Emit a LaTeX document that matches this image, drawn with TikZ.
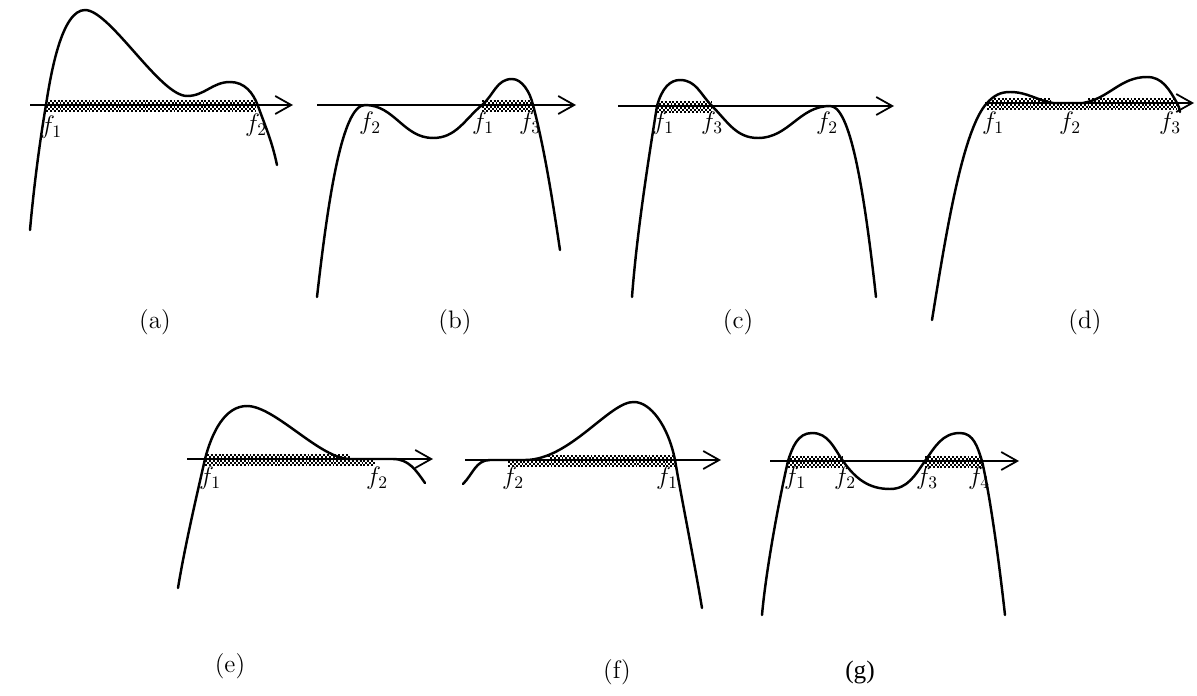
\documentclass[tikz,border=0pt]{standalone}
\usepackage{fontspec}
\newfontfamily\gcapfont{Liberation Serif}
\usetikzlibrary{arrows.meta}
\tikzset{
  curve/.style={line width=1.4pt, line cap=round, line join=round},
  axis/.style={line width=1.1pt, -{Straight Barb[length=0.32cm,width=0.36cm,line width=1pt]}},
  hatch/.style={line width=1.2pt, dash pattern=on 1.1pt off 1.1pt},
  flabel/.style={font=\Large, inner sep=0pt},
  caption/.style={font=\Large, inner sep=0pt}
}
\newcommand{\hatchtop}[3]{\draw[hatch] (#1,#3+4) -- (#2,#3+4);\draw[hatch,dash phase=1.1pt] (#1,#3+2.2) -- (#2,#3+2.2);}
\newcommand{\hatchbot}[3]{\draw[hatch] (#1,#3-2.3) -- (#2,#3-2.3);\draw[hatch,dash phase=1.1pt] (#1,#3-4.2) -- (#2,#3-4.2);\draw[hatch] (#1,#3-6.1) -- (#2,#3-6.1);}
\begin{document}
\begin{tikzpicture}[x=0.02cm,y=0.02cm]
\useasboundingbox (0,0) rectangle (1197,-696);
% ---------- (a)
\hatchtop{46}{256}{-105}\hatchbot{46}{256}{-105}
\coordinate (aL) at (30,-105); \coordinate (aR) at (293,-105);
\draw[axis] (aL) -- (aR);
\draw[curve] (30,-230) .. controls (34,-185) and (40,-140) .. (46,-105)
  .. controls (51,-72) and (62,-10) .. (85,-10)
  .. controls (110,-10) and (160,-96) .. (187,-96)
  to[out=0,in=180] (230,-82) to[out=0,in=110] (258,-106)
  to[out=-70,in=102] (277,-165);
\node[flabel] (a1) at (51,-127) {$f_1$};
\node[flabel] (a2) at (256,-125) {$f_2$};
\node[caption] (ca) at (155,-322) {(a)};
% ---------- (b)
\hatchtop{482}{533}{-105}\hatchbot{482}{533}{-105}
\coordinate (bL) at (317,-105); \coordinate (bR) at (576,-105);
\draw[axis] (bL) -- (bR);
\draw[curve] (317,-297) .. controls (328,-200) and (342,-105) .. (365,-105)
  to[out=0,in=180] (433,-138) to[out=0,in=220] (482,-105) to[out=40,in=180] (512,-79)
  .. controls (522,-79) and (530,-92) .. (533,-105)
  .. controls (545,-150) and (554,-210) .. (560,-250);
\node[flabel] (b2) at (370,-123) {$f_2$};
\node[flabel] (b1) at (483,-123) {$f_1$};
\node[flabel] (b3) at (530,-123) {$f_3$};
\node[caption] (cb) at (455,-322) {(b)};
% ---------- (c)
\hatchtop{657}{712}{-106}\hatchbot{657}{712}{-106}
\coordinate (cL) at (618,-106); \coordinate (cR) at (894,-106);
\draw[axis] (cL) -- (cR);
\draw[curve] (632,-297) .. controls (637,-230) and (650,-150) .. (657,-106)
  .. controls (662,-88) and (670,-80) .. (680,-80)
  to[out=0,in=135] (712,-106) to[out=-45,in=180] (758,-138) to[out=0,in=180] (830,-106)
  .. controls (848,-106) and (862,-170) .. (876,-297);
\node[flabel] (c1) at (663,-123) {$f_1$};
\node[flabel] (c3) at (712,-123) {$f_3$};
\node[flabel] (c2) at (827,-123) {$f_2$};
\node[caption] (cc) at (738,-322) {(c)};
% ---------- (d)
\hatchtop{990}{1050}{-103}\hatchtop{1088}{1174}{-103}\hatchbot{987}{1177}{-103}
\coordinate (dL) at (985,-103); \coordinate (dR) at (1194,-103);
\draw[axis] (dL) -- (dR);
\draw[curve] (932,-320) .. controls (945,-240) and (962,-130) .. (987,-103)
  to[out=47,in=180] (1010,-92)
  to[out=0,in=170] (1053,-103) -- (1083,-103) to[out=10,in=180] (1147,-77)
  to[out=0,in=120] (1177,-103) to[out=-60,in=100] (1180,-112);
\node[flabel] (d1) at (993,-123) {$f_1$};
\node[flabel] (d2) at (1070,-123) {$f_2$};
\node[flabel] (d3) at (1170,-123) {$f_3$};
\node[caption] (cd) at (1085,-322) {(d)};
% ---------- (e)
\hatchtop{207}{350}{-459}\hatchbot{205}{375}{-459}
\coordinate (eL) at (187,-459); \coordinate (eR) at (433,-459);
\draw[axis] (eL) -- (eR);
\draw[curve] (178,-588) .. controls (185,-545) and (198,-490) .. (205,-459)
  .. controls (212,-432) and (225,-406) .. (247,-406)
  .. controls (275,-406) and (320,-459) .. (350,-459) -- (393,-459) to[out=0,in=125] (425,-483);
\node[flabel] (e1) at (210,-478) {$f_1$};
\node[flabel] (e2) at (377,-478) {$f_2$};
\node[caption] (ce) at (230,-666) {(e)};
% ---------- (f)
\hatchtop{548}{675}{-460}\hatchbot{508}{675}{-460}
\coordinate (fL) at (465,-460); \coordinate (fR) at (721,-460);
\draw[axis] (fL) -- (fR);
\draw[curve] (463,-484) to[out=45,in=180] (490,-460) -- (525,-460)
  .. controls (570,-460) and (610,-401) .. (634,-402)
  .. controls (650,-402) and (668,-425) .. (675,-460)
  .. controls (680,-490) and (694,-560) .. (702,-608);
\node[flabel] (f2) at (513,-478) {$f_2$};
\node[flabel] (f1) at (667,-478) {$f_1$};
\node[caption] (cf) at (617,-672) {(f)};
% ---------- (g)
\hatchtop{788}{843}{-461}\hatchbot{788}{843}{-461}
\hatchtop{925}{982}{-461}\hatchbot{925}{982}{-461}
\coordinate (gL) at (770,-461); \coordinate (gR) at (1019,-461);
\draw[axis] (gL) -- (gR);
\draw[curve] (762,-615) .. controls (766,-570) and (779,-500) .. (788,-461)
  to[out=72,in=180] (812,-433)
  to[out=0,in=125] (843,-461) to[out=-55,in=180] (890,-489) to[out=0,in=235] (925,-461)
  to[out=55,in=180] (960,-433) to[out=0,in=108] (982,-461)
  .. controls (991,-500) and (1000,-570) .. (1005,-615);
\node[flabel] (g1) at (795,-478) {$f_1$};
\node[flabel] (g2) at (845,-478) {$f_2$};
\node[flabel] (g3) at (927,-478) {$f_3$};
\node[flabel] (g4) at (979,-478) {$f_4$};
\node[caption,font=\gcapfont\Large] (cg) at (860,-672) {(g)};
\end{tikzpicture}
\end{document}
